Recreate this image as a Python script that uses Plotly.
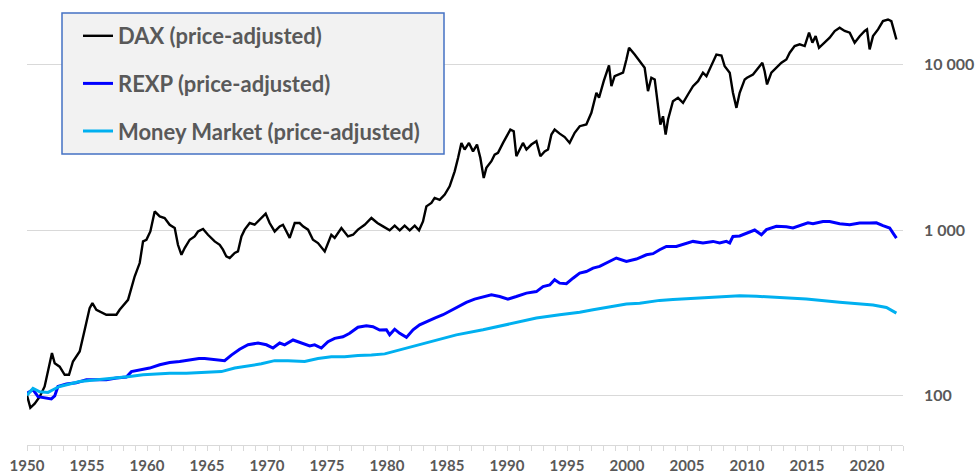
import plotly.graph_objects as go

# ---- data (year, index value) ----
dax_years = [1950.0, 1950.28, 1950.64, 1951.06, 1951.47, 1951.75, 1952.08, 1952.31, 1952.72, 1953.14,
             1953.5, 1953.83, 1954.39, 1954.81, 1955.22, 1955.45, 1955.78, 1956.61, 1957.45, 1957.72,
             1958.42, 1958.97, 1959.39, 1959.67, 1959.95, 1960.28, 1960.64, 1961.06, 1961.47, 1961.89,
             1962.31, 1962.58, 1962.87, 1963.14, 1963.56, 1963.97, 1964.25, 1964.67, 1965.08, 1965.64,
             1966.06, 1966.33, 1966.61, 1966.89, 1967.31, 1967.58, 1967.87, 1968.14, 1968.56, 1968.97,
             1969.39, 1969.89, 1970.22, 1970.64, 1971.06, 1971.33, 1971.62, 1971.89, 1972.31, 1972.72,
             1973.0, 1973.42, 1973.83, 1974.25, 1974.81, 1975.36, 1975.64, 1976.2, 1976.75, 1977.17,
             1977.58, 1978.14, 1978.7, 1979.2, 1979.67, 1980.22, 1980.64, 1981.06, 1981.47, 1981.89,
             1982.31, 1982.67, 1983.0, 1983.28, 1983.7, 1983.97, 1984.39, 1984.81, 1985.22, 1985.64,
             1985.92, 1986.2, 1986.47, 1986.83, 1987.17, 1987.5, 1987.78, 1988.06, 1988.28, 1988.7,
             1988.97, 1989.25, 1989.67, 1989.95, 1990.28, 1990.56, 1990.78, 1991.06, 1991.33, 1991.62,
             1992.03, 1992.45, 1992.78, 1993.14, 1993.42, 1993.7, 1993.97, 1994.39, 1994.81, 1995.22,
             1995.64, 1996.06, 1996.61, 1997.03, 1997.45, 1997.67, 1998.06, 1998.5, 1998.7, 1998.97,
             1999.39, 1999.67, 1999.95, 2000.17, 2000.64, 2001.06, 2001.47, 2001.75, 2002.03, 2002.31,
             2002.58, 2002.78, 2003.0, 2003.22, 2003.42, 2003.83, 2004.25, 2004.67, 2005.08, 2005.5,
             2005.92, 2006.33, 2006.62, 2007.03, 2007.45, 2007.87, 2008.14, 2008.56, 2008.83, 2009.12,
             2009.39, 2009.81, 2010.0, 2010.5, 2010.92, 2011.28, 2011.47, 2011.67, 2012.03, 2012.45,
             2012.87, 2013.28, 2013.56, 2013.97, 2014.39, 2014.81, 2015.17, 2015.45, 2015.72, 2016.0,
             2016.47, 2016.89, 2017.31, 2017.72, 2018.14, 2018.56, 2018.97, 2019.39, 2019.81, 2020.0,
             2020.22, 2020.5, 2020.92, 2021.33, 2021.75, 2022.03, 2022.22, 2022.45]
dax_values = [100, 84, 89, 98, 113, 139, 180, 156, 149, 133,
              133, 160, 184, 249, 337, 361, 329, 307, 307, 329,
              378, 523, 631, 853, 873, 980, 1296, 1208, 1182, 1076,
              1028, 814, 708, 778, 873, 915, 980, 1014, 936, 853,
              814, 760, 692, 677, 726, 742, 914, 1005, 1102, 1076,
              1153, 1256, 1102, 980, 1052, 1076, 980, 896, 1102, 1102,
              1052, 1005, 873, 834, 742, 936, 896, 1028, 914, 936,
              1005, 1076, 1182, 1102, 1052, 995, 1062, 995, 1062, 995,
              1062, 995, 1127, 1390, 1459, 1563, 1523, 1637, 1837, 2265,
              2729, 3365, 3068, 3365, 2990, 3289, 2729, 2065, 2376, 2607,
              2859, 2929, 3365, 3690, 4053, 3959, 2795, 3068, 3365, 3068,
              3289, 3444, 2795, 2990, 3068, 3785, 4053, 3830, 3650, 3365,
              3874, 4248, 4348, 5117, 6767, 6310, 7950, 9900, 7413, 8530,
              8733, 8954, 10770, 12670, 11530, 10510, 9590, 6925, 8340, 8150,
              5610, 4348, 4880, 3785, 4660, 6012, 6310, 5890, 6607, 7413,
              7950, 8954, 8530, 9795, 11530, 11380, 9795, 8954, 6767, 5483,
              6767, 8150, 8340, 8733, 9590, 10280, 9140, 7600, 8954, 9590,
              10280, 10770, 11830, 12970, 13280, 12970, 15630, 13590, 14900, 12670,
              13590, 14590, 16000, 16760, 16000, 15630, 13590, 14890, 16000, 16370,
              12390, 14900, 16370, 18370, 18780, 18370, 16370, 14220]

rexp_years = [1950.0, 1950.5, 1950.92, 1951.47, 1952.03, 1952.31, 1952.58, 1953.28, 1954.11, 1954.95,
              1955.78, 1956.61, 1957.45, 1958.28, 1958.7, 1959.39, 1960.22, 1961.06, 1961.89, 1962.72,
              1963.56, 1964.33, 1964.81, 1965.64, 1966.47, 1967.03, 1967.72, 1968.42, 1969.25, 1969.95,
              1970.5, 1971.06, 1971.47, 1972.17, 1972.87, 1973.56, 1973.97, 1974.53, 1975.08, 1975.64,
              1976.33, 1976.89, 1977.58, 1978.28, 1978.83, 1979.39, 1979.95, 1980.22, 1980.64, 1981.06,
              1981.62, 1982.17, 1982.72, 1983.28, 1983.97, 1984.67, 1985.36, 1985.92, 1986.61, 1987.3,
              1988.0, 1988.7, 1989.39, 1990.08, 1990.78, 1991.62, 1992.45, 1993.0, 1993.56, 1993.97,
              1994.39, 1994.95, 1995.5, 1996.06, 1996.61, 1997.17, 1997.72, 1998.28, 1999.11, 1999.95,
              2000.78, 2001.62, 2002.17, 2002.72, 2003.28, 2004.11, 2004.95, 2005.5, 2006.33, 2007.17,
              2007.72, 2008.28, 2008.56, 2008.83, 2009.39, 2009.95, 2010.64, 2011.2, 2011.62, 2012.45,
              2013.28, 2013.83, 2014.53, 2015.08, 2015.5, 2016.33, 2016.89, 2017.72, 2018.56, 2019.39,
              2020.22, 2020.78, 2021.33, 2021.89, 2022.17, 2022.45]
rexp_values = [103, 108, 98, 96, 95, 99, 113, 117, 119, 124,
               124, 124, 127, 129, 139, 142, 146, 153, 158, 160,
               164, 167, 167, 164, 162, 175, 190, 202, 207, 202,
               193, 207, 202, 216, 208, 199, 202, 193, 211, 221,
               226, 237, 258, 263, 260, 248, 249, 232, 251, 237,
               224, 249, 267, 279, 293, 307, 326, 345, 365, 382,
               392, 405, 396, 382, 396, 415, 424, 454, 465, 500,
               477, 473, 511, 548, 561, 588, 602, 631, 677, 645,
               667, 708, 719, 760, 795, 795, 834, 853, 834, 853,
               834, 853, 834, 914, 920, 958, 1000, 936, 1005, 1052,
               1046, 1028, 1076, 1105, 1090, 1127, 1127, 1090, 1076, 1102,
               1102, 1105, 1062, 1028, 958, 893]

mm_years = [1950.0, 1950.5, 1951.06, 1951.75, 1952.17, 1952.72, 1953.56, 1954.39, 1955.22, 1956.33,
            1957.45, 1958.56, 1959.67, 1960.78, 1961.89, 1963.28, 1964.33, 1965.08, 1966.2, 1967.31,
            1968.42, 1969.53, 1970.64, 1971.75, 1973.14, 1974.25, 1975.36, 1976.47, 1977.58, 1978.7,
            1979.81, 1981.33, 1983.56, 1985.78, 1988.0, 1990.22, 1992.45, 1994.39, 1996.06, 1997.17,
            1999.95, 2001.06, 2002.72, 2003.83, 2005.5, 2006.6, 2008.28, 2009.39, 2010.8, 2012.17,
            2014.95, 2017.72, 2020.5, 2021.62, 2022.45]
mm_values = [100, 110, 105, 104, 108, 113, 117, 121, 123, 125,
             127, 130, 133, 135, 136, 136, 137, 137, 139, 146,
             150, 155, 162, 162, 160, 167, 171, 171, 174, 175,
             178, 190, 211, 232, 249, 271, 293, 307, 318, 329,
             357, 360, 375, 380, 387, 391, 396, 400, 397, 392,
             382, 365, 352, 340, 314]

series_names = ["DAX (price-adjusted)", "REXP (price-adjusted)", "Money Market (price-adjusted)"]
series_colors = ["#000000", "#0000FF", "#00B0F0"]

x_tick_years = [1950, 1955, 1960, 1965, 1970, 1975, 1980, 1985, 1990, 1995, 2000, 2005, 2010, 2015, 2020]
y_tick_vals = [100, 1000, 10000]
y_tick_text = ["100", "1 000", "10 000"]

# ---- figure ----
GRID = "#D9D9D9"
TXT = "#595959"
FONT = "Lato"

fig = go.Figure()
widths = [2.4, 3, 3]
for i, (xs, ys) in enumerate([(dax_years, dax_values), (rexp_years, rexp_values), (mm_years, mm_values)]):
    fig.add_trace(go.Scatter(
        x=xs, y=ys, mode="lines", name=series_names[i],
        legendgroup=f"g{i}",
        line=dict(color=series_colors[i], width=widths[i]),
    ))

W, H = 978, 474
ml, mr, mt, mb = 27, 75, 15, 29
pw, ph = W - ml - mr, H - mt - mb

def px_x(p):
    return (p - ml) / pw

def px_y(p):
    return (H - mb - p) / ph

fig.update_layout(
    width=W, height=H,
    margin=dict(l=ml, r=mr, t=mt, b=mb, pad=0, autoexpand=False),
    paper_bgcolor="white", plot_bgcolor="white",
    font=dict(family=FONT, color=TXT, weight="bold"),
    showlegend=True,
    legend=dict(
        x=px_x(78), y=px_y(15), xanchor="left", yanchor="top",
        bgcolor="rgba(0,0,0,0)", borderwidth=0,
        font=dict(family=FONT, size=22, color=TXT, weight="bold"),
        tracegroupgap=16, traceorder="grouped",
        itemwidth=30,
    ),
    shapes=[dict(
        type="rect", xref="paper", yref="paper",
        x0=px_x(62), x1=px_x(444), y0=px_y(154), y1=px_y(13),
        fillcolor="#F2F2F2", line=dict(color="#4472C4", width=1.5), layer="above",
    )],
    xaxis=dict(
        range=[1950, 2023], showgrid=False, zeroline=False, automargin=False,
        showline=True, linecolor=GRID, linewidth=1,
        tickmode="array", tickvals=x_tick_years, ticktext=[str(v) for v in x_tick_years],
        ticks="outside", ticklen=5, tickcolor=GRID, tickwidth=1,
        minor=dict(ticks="outside", tickmode="linear", tick0=1950, dtick=1,
                   ticklen=5, tickcolor=GRID, tickwidth=1, showgrid=False),
        tickfont=dict(family=FONT, size=15, color=TXT, weight="bold"),
        ticklabelstandoff=2,
        fixedrange=True,
    ),
    yaxis=dict(
        type="log", side="right", automargin=False,
        range=[1.69897, 4.30103],
        tickmode="array", tickvals=y_tick_vals, ticktext=y_tick_text,
        showgrid=True, gridcolor=GRID, gridwidth=1,
        zeroline=False, showline=False, ticks="",
        ticklabelstandoff=20,
        tickfont=dict(family=FONT, size=16, color=TXT, weight="bold"),
        fixedrange=True,
    ),
)

fig.write_html("out.html", config={"displayModeBar": False},
               post_script="document.body.style.margin='0';")
